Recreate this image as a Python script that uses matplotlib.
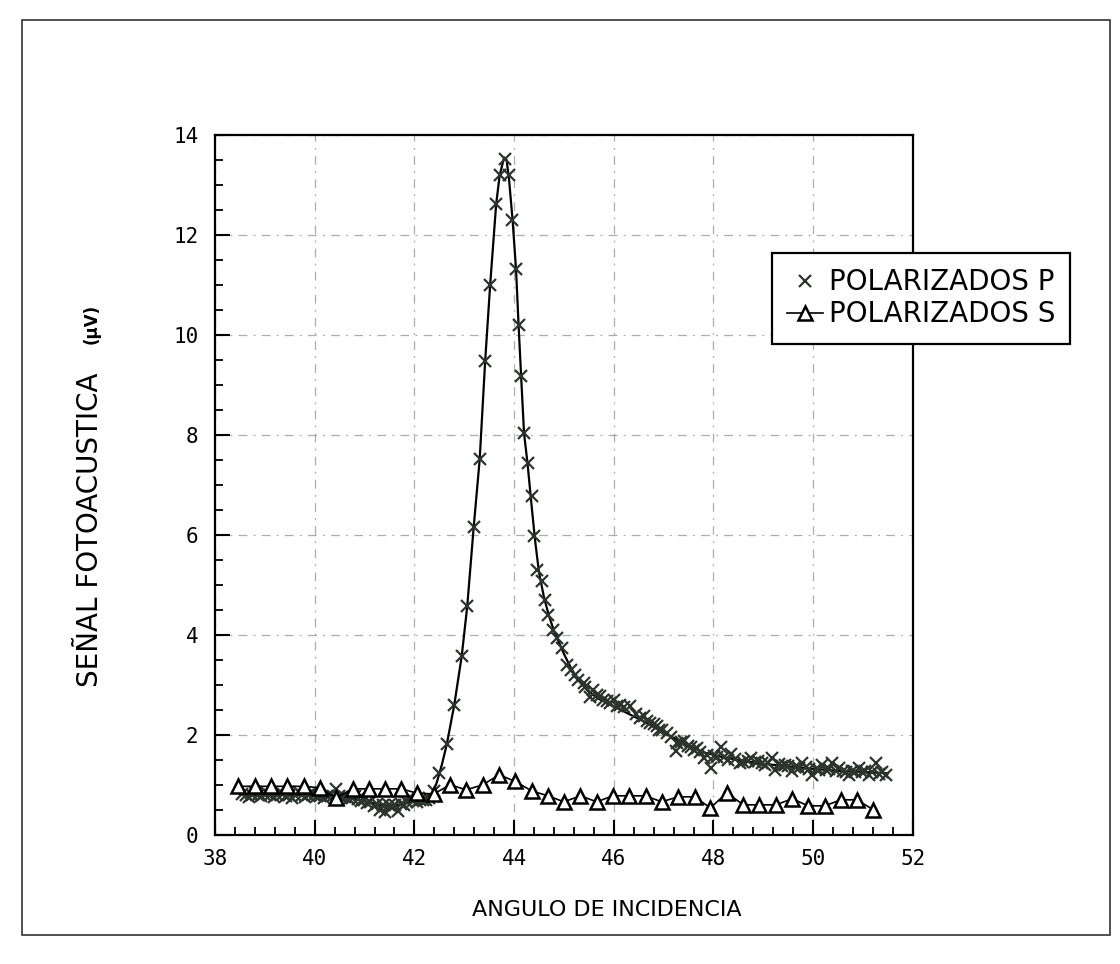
import matplotlib
matplotlib.use("Agg")
import matplotlib.pyplot as plt
from matplotlib.patches import Rectangle

# polarizacion P (puntos medidos)
ang_p = [38.55, 38.62, 38.68, 38.74, 38.80, 38.86, 38.92, 38.98, 39.05, 39.11,
         39.18, 39.24, 39.30, 39.36, 39.42, 39.49, 39.55, 39.61, 39.68, 39.74,
         39.80, 39.86, 39.92, 39.98, 40.05, 40.11, 40.18, 40.24, 40.30, 40.36,
         40.43, 40.49, 40.55, 40.61, 40.68, 40.74, 40.80, 40.86, 40.92, 40.98,
         41.05, 41.11, 41.18, 41.24, 41.30, 41.36, 41.42, 41.49, 41.55, 41.61,
         41.68, 41.74, 41.80, 41.86, 41.92, 41.98, 42.05, 42.11, 42.18, 42.24,
         42.30, 42.40, 42.50, 42.65, 42.80, 42.95, 43.06, 43.19, 43.31, 43.42,
         43.52, 43.64, 43.71, 43.82, 43.90, 43.95, 44.04, 44.09, 44.13, 44.20,
         44.27, 44.36, 44.40, 44.46, 44.56, 44.63, 44.69, 44.78, 44.86, 44.96,
         45.06, 45.14, 45.23, 45.28, 45.40, 45.42, 45.52, 45.59, 45.66, 45.72,
         45.79, 45.86, 45.92, 46.00, 46.06, 46.13, 46.20, 46.33, 46.45, 46.53,
         46.60, 46.67, 46.73, 46.80, 46.87, 46.90, 46.97, 47.07, 47.14, 47.25,
         47.27, 47.34, 47.41, 47.48, 47.55, 47.61, 47.68, 47.74, 47.81, 47.88,
         47.95, 48.02, 48.08, 48.15, 48.22, 48.29, 48.36, 48.43, 48.53, 48.60,
         48.69, 48.76, 48.83, 48.90, 48.97, 49.04, 49.10, 49.17, 49.24, 49.31,
         49.37, 49.44, 49.50, 49.57, 49.64, 49.71, 49.78, 49.85, 49.91, 49.98,
         50.05, 50.11, 50.18, 50.25, 50.31, 50.38, 50.45, 50.52, 50.59, 50.65,
         50.72, 50.79, 50.85, 50.92, 50.99, 51.05, 51.12, 51.19, 51.26, 51.33,
         51.39, 51.46]
sen_p = [0.82, 0.80, 0.76, 0.80, 0.86, 0.80, 0.77, 0.81, 0.84, 0.80,
         0.76, 0.80, 0.86, 0.81, 0.78, 0.79, 0.74, 0.80, 0.85, 0.80,
         0.76, 0.80, 0.83, 0.79, 0.78, 0.78, 0.74, 0.78, 0.80, 0.78,
         0.92, 0.78, 0.76, 0.75, 0.72, 0.74, 0.78, 0.72, 0.68, 0.70,
         0.64, 0.66, 0.57, 0.62, 0.50, 0.60, 0.46, 0.60, 0.56, 0.60,
         0.48, 0.62, 0.60, 0.65, 0.76, 0.68, 0.66, 0.70, 0.70, 0.70,
         0.74, 0.88, 1.23, 1.81, 2.60, 3.58, 4.57, 6.16, 7.51, 9.48,
         11.00, 12.61, 13.19, 13.52, 13.19, 12.29, 11.31, 10.19, 9.18, 8.03,
         7.43, 6.77, 5.97, 5.30, 5.07, 4.70, 4.40, 4.10, 3.93, 3.73,
         3.40, 3.30, 3.20, 3.10, 3.03, 2.95, 2.75, 2.90, 2.80, 2.77,
         2.70, 2.67, 2.63, 2.70, 2.58, 2.60, 2.55, 2.57, 2.42, 2.33,
         2.37, 2.28, 2.23, 2.22, 2.17, 2.10, 2.10, 2.03, 1.95, 1.67,
         1.83, 1.85, 1.88, 1.78, 1.75, 1.70, 1.73, 1.66, 1.53, 1.60,
         1.33, 1.58, 1.55, 1.75, 1.55, 1.50, 1.62, 1.52, 1.43, 1.45,
         1.48, 1.53, 1.45, 1.47, 1.43, 1.40, 1.44, 1.53, 1.30, 1.42,
         1.38, 1.40, 1.38, 1.27, 1.36, 1.34, 1.43, 1.35, 1.32, 1.20,
         1.32, 1.30, 1.40, 1.30, 1.32, 1.43, 1.28, 1.33, 1.28, 1.26,
         1.20, 1.28, 1.25, 1.33, 1.26, 1.27, 1.20, 1.25, 1.43, 1.22,
         1.25, 1.20]

# curva trazada sobre los puntos P
ang_ajuste = [38.5, 39.0, 39.5, 40.0, 40.5, 40.8, 41.1, 41.4, 41.7, 42.0,
              42.2, 42.35, 42.45, 42.55, 42.65, 42.80, 42.95, 43.06, 43.19, 43.31,
              43.42, 43.52, 43.64, 43.71, 43.80, 43.85, 43.90, 43.97, 44.04, 44.09,
              44.14, 44.20, 44.27, 44.34, 44.42, 44.50, 44.60, 44.70, 44.80, 44.90,
              45.0, 45.15, 45.3, 45.5, 45.7, 46.0, 46.3, 46.6, 47.0, 47.4,
              47.8, 48.2, 48.6, 49.0, 49.5, 50.0, 50.5, 51.0, 51.5]
sen_ajuste = [0.80, 0.80, 0.80, 0.79, 0.77, 0.72, 0.65, 0.58, 0.60, 0.66,
              0.70, 0.80, 1.05, 1.40, 1.81, 2.60, 3.58, 4.57, 6.16, 7.51,
              9.48, 11.0, 12.61, 13.19, 13.55, 13.50, 13.10, 12.30, 11.30, 10.20,
              9.20, 8.03, 7.43, 6.70, 5.90, 5.25, 4.75, 4.38, 4.08, 3.85,
              3.62, 3.32, 3.08, 2.86, 2.72, 2.57, 2.42, 2.27, 2.05, 1.83,
              1.65, 1.55, 1.48, 1.42, 1.37, 1.32, 1.28, 1.26, 1.23]

# polarizacion S
ang_s = [38.47, 38.80, 39.12, 39.45, 39.78, 40.10, 40.43, 40.76, 41.08, 41.41,
         41.74, 42.06, 42.39, 42.72, 43.04, 43.37, 43.70, 44.02, 44.35, 44.68,
         45.00, 45.33, 45.66, 45.98, 46.31, 46.64, 46.96, 47.29, 47.62, 47.94,
         48.27, 48.60, 48.92, 49.25, 49.58, 49.90, 50.23, 50.56, 50.88, 51.21]
sen_s = [0.97, 0.97, 0.97, 0.97, 0.97, 0.94, 0.74, 0.92, 0.92, 0.92,
         0.92, 0.83, 0.82, 1.00, 0.90, 1.00, 1.20, 1.07, 0.88, 0.78,
         0.66, 0.78, 0.66, 0.78, 0.78, 0.78, 0.66, 0.76, 0.76, 0.54,
         0.84, 0.60, 0.60, 0.60, 0.72, 0.58, 0.58, 0.70, 0.70, 0.50]

fig = plt.figure(figsize=(11.2, 9.64), dpi=100)
ax = fig.add_axes([0.192, 0.134, 0.623, 0.726])

ax.plot(ang_ajuste, sen_ajuste, color='black', lw=1.6, zorder=3)
ax.plot(ang_p, sen_p, ls='none', marker='x', ms=8, mew=1.6, color='#2c352d',
        label='POLARIZADOS P', zorder=4)
ax.plot(ang_s, sen_s, color='black', lw=1.2, marker='^', ms=9.5, mew=1.8,
        mfc='white', mec='black', label='POLARIZADOS S', zorder=5)

ax.set_xlim(38, 52)
ax.set_ylim(0, 14)
ax.set_xticks(range(38, 53, 2))
ax.set_yticks(range(0, 15, 2))
ax.set_xticks([38 + 0.4 * i for i in range(36)], minor=True)
ax.set_yticks([0.5 * i for i in range(29)], minor=True)
ax.tick_params(which='major', direction='in', length=11, width=1.5,
               labelsize=15, labelfontfamily='DejaVu Sans Mono')
ax.tick_params(axis='x', which='major', pad=10)
ax.tick_params(axis='y', which='major', pad=12)
ax.tick_params(which='minor', direction='in', length=6, width=1.3)
for s in ax.spines.values():
    s.set_linewidth(1.6)

ax.grid(True, which='major', color='#777777', lw=0.9,
        linestyle=(0, (7, 5, 1.5, 5)), alpha=0.6)
ax.set_axisbelow(True)

fig.text(0.542, 0.056, 'ANGULO DE INCIDENCIA', fontsize=16, ha='center', va='center')
fig.text(0.080, 0.45, 'SEÑAL FOTOACUSTICA', fontsize=20, rotation=90,
         ha='center', va='center')
fig.text(0.082, 0.664, '(μV)', fontsize=12, fontweight='bold', rotation=90,
         ha='center', va='center')

leg = fig.legend(loc='upper left', bbox_to_anchor=(0.689, 0.7376), fontsize=20,
                 frameon=True, fancybox=False, edgecolor='black', framealpha=1,
                 handlelength=1.3, handletextpad=0.2, borderpad=0.55,
                 labelspacing=0.15, borderaxespad=0)
leg.get_frame().set_linewidth(1.6)

fig.add_artist(Rectangle((0.0196, 0.030), 0.9714, 0.949, transform=fig.transFigure,
                         fill=False, lw=1.2, color='#333333'))

fig.savefig('out.png', dpi=100)
